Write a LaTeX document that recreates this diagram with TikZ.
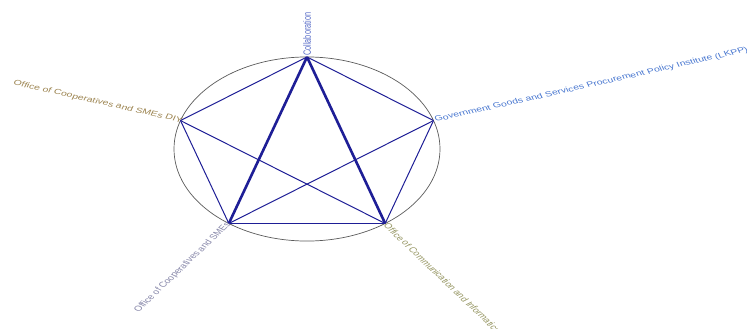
\documentclass[tikz,border=0pt]{standalone}
\usepackage{fontspec}
\setmainfont{Liberation Sans}
\definecolor{edgecol}{HTML}{1E1E96}
\definecolor{ringcol}{HTML}{5A5A5A}
\definecolor{colC}{HTML}{5A6EC8}
\definecolor{colR}{HTML}{4A78D0}
\definecolor{colL}{HTML}{9C8450}
\definecolor{colBL}{HTML}{8686A8}
\definecolor{colBR}{HTML}{949460}
\tikzset{
  edge/.style={draw=edgecol, line width=1pt},
  midedge/.style={draw=edgecol, line width=1.7pt},
  thickedge/.style={draw=edgecol, line width=2.6pt},
  ring/.style={draw=ringcol, line width=0.7pt},
  lbl/.style={inner sep=1.5pt, font=\fontsize{10.6}{12}\selectfont}
}
\begin{document}
\begin{tikzpicture}[x=1pt,y=1pt]
\useasboundingbox (0,0) rectangle (747,-329);
\clip (0,0) rectangle (747,-329);
\begin{scope}[shift={(307,-149)}, yscale=0.692, transform shape]
  \draw[ring] (0,0) circle (133);
  \coordinate (c) at (90:133);
  \coordinate (r) at (18:133);
  \coordinate (l) at (162:133);
  \coordinate (bl) at (234:133);
  \coordinate (br) at (306:133);
  \draw[edge] (c) -- (r);
  \draw[edge] (c) -- (l);
  \draw[edge] (l) -- (bl);
  \draw[edge] (l) -- (br);
  \draw[edge] (r) -- (bl);
  \draw[edge] (r) -- (br);
  \draw[midedge] (bl) -- (br);
  \draw[thickedge] (c) -- (bl);
  \draw[thickedge] (c) -- (br);
  \node[lbl, anchor=west, rotate=90, text=colC] (lc) at (c) {Collaboration};
  \node[lbl, anchor=west, rotate=18, text=colR] (lr) at (r) {Government Goods and Services Procurement Policy Institute (LKPP)};
  \node[lbl, anchor=east, rotate=-18, text=colL, inner sep=-2pt] (ll) at (l) {Office of Cooperatives and SMEs DIY};
  \node[lbl, anchor=east, rotate=54, text=colBL, inner sep=0pt] (lbl) at (bl) {Office of Cooperatives and SMEs};
  \node[lbl, anchor=west, rotate=-54, text=colBR] (lbr) at (br) {Office of Communication and Informatics};
\end{scope}
\end{tikzpicture}
\end{document}
